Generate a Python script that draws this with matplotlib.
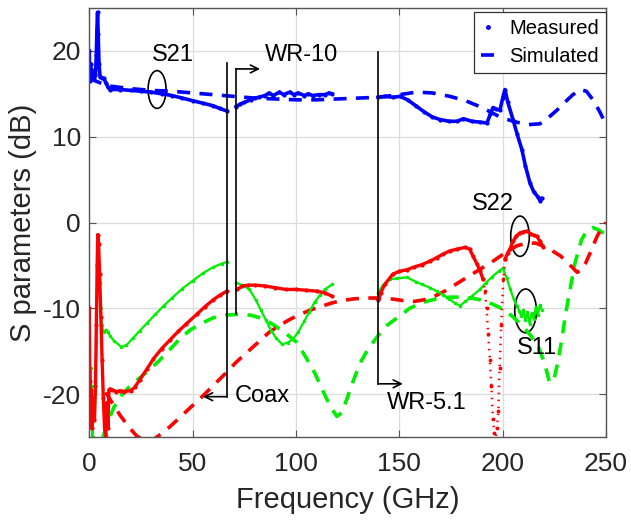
import numpy as np
import matplotlib
matplotlib.use('Agg')
import matplotlib.pyplot as plt
from matplotlib.patches import Ellipse
from matplotlib.lines import Line2D

plt.rcParams['font.family'] = ['Liberation Sans', 'DejaVu Sans']
plt.rcParams['axes.unicode_minus'] = False

nan = np.nan

# ---------------- data (frequency in GHz, S-parameters in dB) ----------------
# S21 measured (coax | WR-10 | WR-5.1 bands separated by NaN)
s21_meas_f = [0, 0.3, 0.6, 0.9, 1.2, 1.6, 2.0, 2.5, 3.0, 3.4, 3.7, 4.0, 4.3, 4.7, 5.2, 6.0, 7.0, 8.0, 9.0,
              10, 15, 20, 25, 30, 35, 40, 45, 50, 55, 60, 63, 66.5,
              nan,
              71, 73, 75, 78, 80, 82, 85, 87, 89, 92, 94, 97, 99, 101, 104, 106, 108, 111, 114, 116, 117.5,
              nan,
              139.7, 143, 147, 150.3, 154, 158, 162, 166, 169.7, 174, 178, 181, 185, 189, 192.4, 194, 195.3,
              197, 198.7, 200, 201.1, 202.5, 205, 207, 209.3, 211, 213.2, 215, 217, 218.2, 219]
s21_meas_db = [20.0, 16.5, 18.5, 17.2, 17.8, 17.0, 16.9, 16.9, 17.2, 19.5, 22.5, 24.5, 22.0, 18.5, 17.0, 16.9,
               16.8, 16.3, 15.8,
               15.5, 15.5, 15.4, 15.3, 15.2, 15.0, 14.8, 14.5, 14.2, 13.9, 13.6, 13.3, 13.0,
               nan,
               13.5, 13.8, 14.0, 14.3, 14.5, 14.6, 14.8, 15.1, 14.8, 15.2, 14.9, 15.2, 14.9, 15.1, 14.8, 15.0,
               14.8, 14.9, 14.9, 15.1, 15.0,
               nan,
               14.6, 14.7, 14.6, 14.7, 14.3, 13.6, 12.9, 12.3, 12.0, 11.8, 11.8, 12.1, 11.8, 11.7, 11.6, 12.6,
               13.4, 13.2, 13.1, 14.5, 15.5, 14.0, 12.0, 10.3, 8.5, 6.6, 4.6, 3.6, 3.0, 2.5, 2.8]

# S21 simulated
s21_sim_f = [0, 5, 10, 20, 30, 40, 50, 60, 70, 80, 90, 100, 110, 120, 130, 140, 150, 158.5, 166, 174.5,
             182, 189, 194, 198.7, 205, 211.8, 218, 222, 226.3, 230, 234, 237.4, 240.5, 243.7, 247, 250]
s21_sim_db = [16.8, 16.3, 15.9, 15.6, 15.4, 15.3, 15.1, 14.9, 14.7, 14.5, 14.4, 14.3, 14.3, 14.4, 14.5,
              14.6, 14.9, 15.2, 15.1, 14.7, 14.2, 13.5, 12.9, 12.3, 11.8, 11.4, 11.5, 12.2, 13.1, 14.0,
              14.9, 15.5, 15.3, 14.3, 12.9, 11.4]

# S11 measured
s11_meas_f = [0, 0.3, 0.6, 0.9, 1.2, 1.6, 2.0, 2.5, 3.0, 3.4, 3.8, 4.2, 4.6, 5.0, 5.5, 6.0, 7.0, 8.0, 9.0,
              10, 12, 15.5, 18, 21, 24.5, 28, 32, 36, 40, 45, 50, 55, 60, 64, 66.5,
              nan,
              71, 74, 77.5, 80.5, 83, 85.5, 88, 90.5, 93.3, 96, 98.5, 101, 104, 106.5, 109, 111.5, 114, 117.5,
              nan,
              139.7, 142, 145.5, 149, 153.7, 158, 161, 164.8, 168, 171, 174, 177, 179.3, 182, 185, 189, 192,
              195, 198, 200.1, 202, 203.7, 205.3, 206.9, 208, 209, 210, 211, 212, 213, 214, 215, 216, 217,
              218, 219]
s11_meas_db = [-11, -24, -17, -23, -19, -25, -21, -23, -20, -14, -8, -5.5, -5.0, -7, -10, -12, -12.8, -12.5,
               -12.8, -13.2, -13.8, -14.5, -14.3, -13.5, -12.6, -11.7, -10.7, -9.7, -8.8, -7.7, -6.8, -5.9,
               -5.2, -4.8, -4.6,
               nan,
               -7.0, -7.3, -7.8, -9.0, -10.2, -11.4, -12.6, -13.5, -14.2, -14.0, -13.6, -12.8, -11.5, -10.4,
               -9.3, -8.5, -7.8, -7.2,
               nan,
               -8.2, -7.3, -6.6, -6.5, -6.4, -6.9, -7.2, -7.6, -8.0, -8.4, -8.9, -9.4, -9.7, -9.2, -8.6, -7.8,
               -7.0, -6.3, -5.7, -5.3, -6.5, -7.8, -8.9, -9.7, -10.3, -10.9, -10.2, -11.4, -10.4, -11.8,
               -10.6, -11.2, -9.9, -10.8, -9.6, -10.2]

# S22 measured
s22_meas_f = [0, 0.3, 0.6, 0.9, 1.2, 1.6, 2.0, 2.5, 3.0, 3.4, 3.8, 4.1, 4.5, 5.0, 5.6, 6.2, 6.8, 7.4, 8.0,
              8.5, 9.0, 9.5, 10, 11, 13, 15, 17, 20, 22, 24.5, 27.8, 31, 35, 39, 43, 47, 52, 56, 60, 63, 66.5,
              nan,
              71.5, 74, 77, 80, 85, 90, 95, 100, 105, 110, 114, 117.5,
              nan,
              139.7, 141, 143, 146.9, 150, 153.7, 157, 161, 164.8, 168, 171, 174.5, 178, 181.8, 184, 185.6,
              187.5, 189, 190.5,
              nan,
              201.3, 202.5, 203.5, 205, 206.5, 208.4, 210, 211.8, 213.5, 215, 216.6, 218, 219.5]
s22_meas_db = [-10, -18.5, -22.5, -19.5, -24, -21.5, -20.5, -23, -19, -12, -5, -1.4, -2.5, -6, -11, -16,
               -20.5, -24, -25, -21, -24, -19.5, -19.4, -19.5, -19.7, -19.6, -19.7, -19.6, -19.2, -18.3,
               -17.1, -15.9, -14.7, -13.7, -12.7, -11.8, -10.7, -9.8, -9.0, -8.5, -8.0,
               nan,
               -7.8, -7.4, -7.3, -7.3, -7.4, -7.6, -7.8, -7.8, -7.9, -8.0, -8.2, -8.6,
               nan,
               -9.0, -8.2, -7.2, -6.0, -5.7, -5.5, -5.2, -4.9, -4.5, -4.1, -3.7, -3.3, -3.1, -2.9, -3.1,
               -3.9, -4.8, -5.6, -6.6,
               nan,
               -4.2, -3.5, -3.1, -2.2, -1.6, -1.2, -1.1, -1.0, -1.3, -1.5, -1.6, -2.2, -2.8]

# S22 measured, deep notch near 196 GHz (sparse points)
s22_notch_f = [190.5, 191.4, 192.2, 193.0, 193.8, 194.5, 195.3, 196.0, 196.6, 197.2, 197.9, 198.5, 199.3,
               200.3, 201.3]
s22_notch_db = [-6.6, -8.0, -10.0, -13.0, -16.0, -19.0, -22.9, -24.5, -25.5, -24.0, -22.0, -17.0, -12.0,
                -6.6, -4.2]

# S22 simulated
s22_sim_f = [8, 11, 15, 19, 23, 27, 31, 35, 39, 43, 47, 51, 55, 60, 65, 71, 76, 82, 87, 92, 97, 102, 107,
             112, 117, 122, 128, 134, 140, 146, 152, 157, 162, 167, 172, 178, 184, 190, 196, 202, 207, 212,
             216, 220, 224, 228, 231, 234, 236, 238, 240, 242.4, 245.7, 248, 250]
s22_sim_db = [-19.8, -21.0, -22.5, -23.8, -24.9, -25.4, -25.3, -24.6, -23.8, -22.9, -22.0, -21.1, -20.2,
              -19.0, -17.8, -16.3, -15.2, -13.9, -12.8, -12.0, -11.3, -10.7, -10.2, -9.8, -9.4, -9.1, -8.9,
              -8.8, -8.8, -8.9, -9.1, -9.2, -9.0, -8.6, -8.0, -7.1, -6.2, -5.3, -4.4, -3.4, -2.7, -2.4,
              -2.4, -2.8, -3.3, -3.9, -4.6, -5.3, -5.8, -5.6, -4.8, -3.5, -1.6, -0.6, 0.0]

# S11 simulated
s11_sim_f = [6.6, 9, 12, 16, 20, 26, 33, 39, 44, 49, 54, 60, 66, 72, 78, 84, 89, 95, 100.5, 105, 109, 113,
             116.5, 119.8, 122, 124.6, 127.5, 131, 135, 139.7, 144, 149, 155, 161.4, 168, 174.5, 182, 189,
             195, 200.1, 205, 209.8, 214, 217.5, 220.5, 222.5, 224.5, 226.5, 228.5, 230.5, 232.6, 235,
             238.2, 240.6, 243.5, 246, 248.5, 250]
s11_sim_db = [-25, -23.2, -21.5, -20.0, -19.0, -17.8, -16.3, -14.8, -13.5, -12.5, -11.8, -11.1, -10.8,
              -10.7, -10.8, -11.2, -11.9, -12.9, -14.0, -15.8, -17.5, -19.6, -21.4, -22.6, -22.2, -20.6,
              -18.6, -16.4, -14.7, -13.2, -12.0, -11.1, -10.0, -9.3, -8.9, -8.7, -8.7, -9.0, -9.5, -10.1,
              -11.0, -12.1, -13.3, -14.6, -16.6, -18.5, -18.6, -16.5, -13.8, -10.6, -7.8, -4.7, -2.0, -1.0,
              -0.6, -0.8, -1.2, -1.5]

x_ticks = [0, 50, 100, 150, 200, 250]
y_ticks = [-20, -10, 0, 10, 20]

# ---------------- figure ----------------
fig = plt.figure(figsize=(6.31, 5.20), dpi=100)
ax = fig.add_axes([0.1415, 0.1596, 0.8189, 0.825])

BLUE, GREEN, RED = '#0000FF', '#00EE00', '#FF0000'
dash = (3.6, 2.6)

# simulated (dashed)
ax.plot(s11_sim_f, s11_sim_db, color=GREEN, lw=2.6, ls='--', dashes=dash)
ax.plot(s22_sim_f, s22_sim_db, color=RED, lw=2.6, ls='--', dashes=dash)
ax.plot(s21_sim_f, s21_sim_db, color=BLUE, lw=2.6, ls='--', dashes=dash)

# measured (dense dots)
ax.plot(s11_meas_f, s11_meas_db, color=GREEN, lw=1.6, marker='.', ms=3)
ax.plot(s22_meas_f, s22_meas_db, color=RED, lw=2.4, marker='.', ms=4)
ax.plot(s22_notch_f, s22_notch_db, color=RED, lw=1.8, ls=(0, (0.6, 2.2)), marker='.', ms=3.5)
ax.plot(s21_meas_f, s21_meas_db, color=BLUE, lw=2.6, marker='.', ms=4)

# ---------------- annotations ----------------
akw = dict(arrowstyle='->', color='k', lw=1.2, shrinkA=0, shrinkB=0, mutation_scale=14)
# Coax boundary
ax.plot([66.5, 66.5], [18.6, -20.3], color='k', lw=1.2)
ax.annotate('', xy=(55, -20.3), xytext=(66.5, -20.3), arrowprops=akw)
ax.text(70.3, -20.2, 'Coax', fontsize=17, va='center', ha='left')
# WR-10 boundary
ax.plot([70.8, 70.8], [17.9, -10.7], color='k', lw=1.2)
ax.annotate('', xy=(82.6, 17.9), xytext=(70.8, 17.9), arrowprops=akw)
ax.text(85, 19.5, 'WR-10', fontsize=17, va='center', ha='left')
# WR-5.1 boundary
ax.plot([139.7, 139.7], [19.9, -18.8], color='k', lw=1.2)
ax.annotate('', xy=(151.7, -18.8), xytext=(139.7, -18.8), arrowprops=akw)
ax.text(143.9, -21.0, 'WR-5.1', fontsize=17, va='center', ha='left')

# ellipses and labels
ax.add_patch(Ellipse((32.8, 15.5), 8.7, 4.4, fill=False, ec='k', lw=1.2))
ax.text(40.5, 19.5, 'S21', fontsize=17, va='center', ha='center')
ax.add_patch(Ellipse((208.4, -1.6), 9.0, 4.7, fill=False, ec='k', lw=1.2))
ax.text(195.5, 2.1, 'S22', fontsize=17, va='center', ha='center')
ax.add_patch(Ellipse((211.1, -10.3), 10.5, 5.1, fill=False, ec='k', lw=1.2))
ax.text(216.4, -14.6, 'S11', fontsize=17, va='center', ha='center')

# ---------------- axes styling ----------------
ax.set_xlim(0, 250)
ax.set_ylim(-25, 25)
ax.set_xticks(x_ticks)
ax.set_yticks(y_ticks)
ax.grid(True, color='#DCDCDC', lw=0.9)
ax.set_axisbelow(True)
for s in ax.spines.values():
    s.set_color('#555555')
    s.set_linewidth(1.0)
ax.tick_params(direction='in', top=True, right=True, length=5, width=0.8, colors='#555555',
               labelcolor='#262626', labelsize=19)
ax.tick_params(axis='x', pad=11)
ax.tick_params(axis='y', pad=6)
ax.set_xlabel('Frequency (GHz)', fontsize=21, color='#262626', labelpad=7)
ax.set_ylabel('S parameters (dB)', fontsize=21, color='#262626', labelpad=4)

handles = [Line2D([], [], color=BLUE, marker='.', ls='none', ms=5),
           Line2D([], [], color=BLUE, lw=2.6, ls='--', dashes=dash)]
leg = ax.legend(handles, ['Measured', 'Simulated'], loc='upper right',
                bbox_to_anchor=(1.0, 1 - 4 / 429), borderaxespad=0, fontsize=14.5,
                fancybox=False, framealpha=1, edgecolor='#333333', handlelength=0.7,
                handletextpad=0.7, borderpad=0.35, labelspacing=0.45)
leg.get_frame().set_linewidth(0.9)

fig.savefig('out.png', dpi=100)
